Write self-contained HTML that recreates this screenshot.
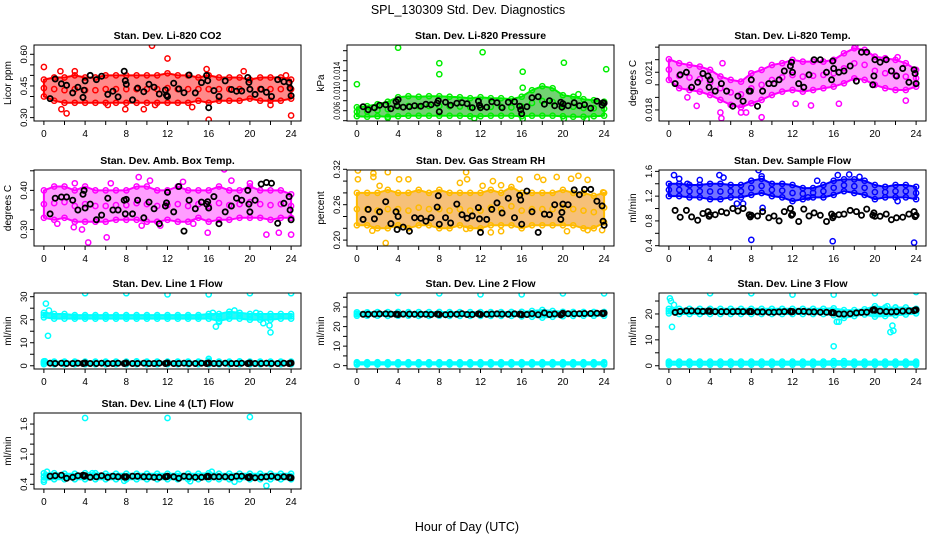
<!DOCTYPE html>
<html><head><meta charset="utf-8">
<style>
html,body{margin:0;padding:0;background:#fff;}
svg{display:block;font-family:"Liberation Sans",Arial,sans-serif;}
</style></head>
<body>
<svg id="chart" width="936" height="540" viewBox="0 0 936 540" xmlns="http://www.w3.org/2000/svg">
<rect width="936" height="540" fill="#fff"/>
<text x="468" y="14" font-size="12.5" text-anchor="middle">SPL_130309  Std. Dev. Diagnostics</text>
<text x="467" y="531" font-size="12.5" text-anchor="middle">Hour of Day (UTC)</text>
</svg>
<script>
// shared time bases
const bandHours = [0,1,2,3,4,5,6,7,8,9,10,11,12,13,14,15,16,17,18,19,20,21,22,23,24];
const blackHours = [0.6,1.1,1.7,2.2,2.8,3.3,3.8,3.9,4.0,4.5,5.1,5.6,6.2,6.7,7.2,7.8,7.9,8.0,8.6,9.1,9.7,10.2,10.7,11.2,11.8,11.9,12.0,12.6,13.1,13.6,14.1,14.7,15.3,15.8,15.9,16.0,16.5,17.0,17.6,18.2,18.7,19.2,19.8,19.9,20.0,20.5,21.1,21.6,22.1,22.7,23.3,23.8,23.9,24.0];
const xTicks = [0,2,4,6,8,10,12,14,16,18,20,22,24];
const xTickLabels = ["0","","4","","8","","12","","16","","20","","24"];

// CO2
const co2Hi = [0.48,0.49,0.49,0.5,0.49,0.49,0.5,0.5,0.5,0.5,0.5,0.5,0.51,0.5,0.5,0.49,0.5,0.49,0.49,0.49,0.48,0.49,0.49,0.49,0.48];
const co2Lo = [0.4,0.38,0.37,0.37,0.37,0.37,0.37,0.37,0.37,0.37,0.37,0.37,0.37,0.37,0.37,0.38,0.37,0.38,0.38,0.38,0.39,0.38,0.38,0.38,0.39];
const co2Out = [[0,0.54],[1.6,0.52],[1.7,0.34],[2.2,0.32],[3.0,0.52],[7.9,0.34],[10.5,0.64],[12.0,0.58],[15.8,0.53],[16.0,0.29],[19.4,0.52],[23.5,0.50],[24.0,0.31],[14.4,0.35],[9.7,0.34],[6.2,0.36],[22.0,0.36],[10.8,0.36]];
const co2Black = [0.39,0.483,0.46,0.453,0.417,0.444,0.396,0.43,0.474,0.50,0.48,0.496,0.41,0.425,0.398,0.52,0.475,0.458,0.384,0.44,0.423,0.458,0.444,0.412,0.431,0.406,0.40,0.463,0.436,0.418,0.502,0.417,0.466,0.50,0.475,0.347,0.428,0.40,0.474,0.433,0.425,0.426,0.49,0.467,0.434,0.41,0.434,0.42,0.40,0.48,0.47,0.466,0.44,0.404];

// Pressure
const presHi = [0.0067,0.0069,0.0073,0.0078,0.0087,0.0089,0.0088,0.0089,0.0089,0.0088,0.0087,0.0085,0.0087,0.0085,0.0085,0.0083,0.0088,0.0101,0.0109,0.0105,0.0091,0.0088,0.0083,0.0081,0.0078];
const presLo = [0.0049,0.0048,0.0049,0.0048,0.0049,0.0050,0.0050,0.0050,0.0050,0.0050,0.0050,0.0049,0.0049,0.0050,0.0050,0.0050,0.0049,0.0050,0.0050,0.0050,0.0049,0.0048,0.0048,0.0049,0.0050];
const presOut = [[0,0.0113],[4.0,0.0186],[8.0,0.0155],[8.0,0.0133],[12.2,0.0177],[16.1,0.0138],[16.1,0.0106],[20.1,0.0156],[24.2,0.0143],[21.5,0.0093],[16.1,0.0044],[20.1,0.0044],[22.3,0.0043],[3.0,0.0046],[11.4,0.0045]];
const presBlack = [0.0068,0.0062,0.0066,0.0071,0.0072,0.0064,0.0078,0.0070,0.0082,0.0067,0.0068,0.0070,0.0069,0.0073,0.0072,0.0075,0.0080,0.0058,0.0077,0.0071,0.0075,0.0076,0.0074,0.0066,0.0079,0.0071,0.0066,0.0067,0.0078,0.0076,0.0066,0.0077,0.0078,0.0069,0.0062,0.0054,0.0068,0.0086,0.0088,0.0073,0.0080,0.0070,0.0077,0.0067,0.0074,0.0070,0.0076,0.0070,0.0072,0.0065,0.0079,0.0071,0.0076,0.0075];

// Li-820 temp
const ltHi = [0.02204,0.02172,0.02158,0.02145,0.02119,0.02066,0.02039,0.02026,0.02092,0.02119,0.02158,0.02172,0.02198,0.02185,0.02185,0.02185,0.02198,0.02251,0.02291,0.02278,0.02225,0.02212,0.02198,0.02172,0.02119];
const ltLo = [0.02039,0.01973,0.01959,0.01946,0.01919,0.0188,0.0184,0.01821,0.01853,0.0188,0.01919,0.01946,0.01959,0.01946,0.01959,0.01973,0.01986,0.02012,0.02052,0.02039,0.01999,0.01973,0.01959,0.01959,0.01986];
const ltOut = [[5.2,0.02172],[5.1,0.01734],[9.0,0.01742],[13.8,0.01835],[23.0,0.01874],[2.7,0.01832],[18.1,0.02304],[5.0,0.0178],[7.0,0.0178],[7.5,0.0178],[12.3,0.0185],[16.5,0.0185],[22.2,0.0222],[1.8,0.0190]];
const ltBlack = [0.0201,0.0208,0.021,0.0198,0.0202,0.0209,0.0207,0.0198,0.0204,0.0195,0.0201,0.0195,0.0183,0.0191,0.0187,0.0195,0.0195,0.0204,0.0183,0.0195,0.0201,0.0201,0.0204,0.0211,0.0215,0.0218,0.0210,0.0201,0.0198,0.0208,0.0220,0.0220,0.0210,0.0204,0.0219,0.0213,0.0210,0.0211,0.0215,0.0203,0.0226,0.0226,0.0200,0.0207,0.0220,0.0218,0.0220,0.0211,0.0207,0.0213,0.0202,0.0212,0.0209,0.0201];

// Amb box temp
const abHi = [0.40,0.41,0.41,0.40,0.41,0.40,0.40,0.40,0.40,0.41,0.41,0.40,0.40,0.41,0.40,0.40,0.40,0.41,0.40,0.40,0.41,0.40,0.40,0.40,0.39];
const abLo = [0.33,0.325,0.33,0.32,0.32,0.32,0.32,0.325,0.325,0.325,0.32,0.32,0.325,0.32,0.32,0.33,0.32,0.325,0.325,0.33,0.33,0.33,0.325,0.33,0.33];
const abOut = [[9.2,0.434],[17.5,0.4535],[4.3,0.267],[6.1,0.28],[21.6,0.287],[24,0.287],[22.8,0.292],[15.9,0.292],[3.7,0.30],[2.9,0.306],[10.3,0.425],[13.5,0.422],[18.2,0.425],[6.5,0.418],[3.0,0.418],[20.0,0.418],[11.3,0.31],[1.3,0.315],[9.5,0.31],[14.5,0.315]];
const abBlack = [0.34,0.38,0.383,0.383,0.375,0.35,0.39,0.40,0.355,0.365,0.325,0.337,0.38,0.35,0.35,0.375,0.34,0.377,0.34,0.375,0.33,0.37,0.353,0.315,0.36,0.368,0.395,0.345,0.41,0.296,0.375,0.353,0.37,0.365,0.371,0.355,0.384,0.315,0.345,0.36,0.38,0.375,0.40,0.365,0.345,0.375,0.416,0.42,0.418,0.316,0.367,0.384,0.35,0.325];

// Gas stream RH
const rhHi = [0.28,0.28,0.28,0.285,0.28,0.28,0.285,0.28,0.285,0.28,0.28,0.28,0.28,0.285,0.28,0.29,0.28,0.28,0.28,0.28,0.285,0.28,0.28,0.275,0.28];
const rhLo = [0.225,0.225,0.22,0.22,0.225,0.22,0.225,0.225,0.22,0.22,0.225,0.22,0.22,0.225,0.225,0.225,0.22,0.225,0.225,0.225,0.225,0.225,0.22,0.22,0.23];
const rhOut = [[0.1,0.318],[0.1,0.303],[1.6,0.313],[1.6,0.307],[2.2,0.292],[3.0,0.315],[4.1,0.303],[5.0,0.303],[10.0,0.297],[10.6,0.315],[10.7,0.303],[12.2,0.292],[13.2,0.30],[14.0,0.293],[15.8,0.303],[17.5,0.307],[18.1,0.302],[19.4,0.307],[20.8,0.304],[21.5,0.309],[22.4,0.302],[2.8,0.195],[1.5,0.216],[10.6,0.219],[13.0,0.213],[14.0,0.215],[20.4,0.215],[22.4,0.217],[23.8,0.217],[23.9,0.281]];
const rhBlack = [0.235,0.252,0.236,0.248,0.265,0.228,0.248,0.218,0.24,0.222,0.215,0.238,0.237,0.232,0.238,0.256,0.275,0.227,0.238,0.229,0.261,0.243,0.237,0.241,0.255,0.236,0.213,0.235,0.252,0.263,0.246,0.271,0.238,0.276,0.268,0.227,0.283,0.248,0.213,0.244,0.243,0.26,0.235,0.247,0.261,0.26,0.285,0.277,0.286,0.286,0.266,0.258,0.232,0.225];

// Sample flow
const sfHi = [1.40,1.40,1.38,1.38,1.40,1.40,1.38,1.38,1.45,1.48,1.40,1.40,1.38,1.33,1.33,1.38,1.45,1.47,1.47,1.45,1.38,1.35,1.38,1.38,1.35];
const sfLo = [1.20,1.20,1.18,1.18,1.15,1.15,1.18,1.18,1.22,1.25,1.20,1.18,1.12,1.15,1.18,1.18,1.22,1.28,1.25,1.22,1.15,1.18,1.18,1.18,1.15];
const sfOut = [[0.5,1.54],[1.0,1.48],[4.9,1.54],[5.3,1.50],[8.7,1.62],[9.0,1.52],[8.0,0.494],[15.9,0.472],[23.8,0.45],[16.4,1.54],[17.5,1.55],[18.5,1.51],[6.6,1.08],[7.2,1.08],[13.5,1.18],[14.4,1.45],[3.0,1.46],[9.1,1.01],[1.8,1.40],[22.2,1.12]];
const sfBlack = [0.97,0.86,0.97,0.865,0.81,0.92,0.95,0.875,0.90,0.90,0.95,0.93,1.00,0.96,1.00,0.90,0.865,0.89,0.88,0.95,0.85,0.88,0.80,0.95,1.00,0.89,0.91,0.79,0.99,0.88,0.93,0.89,0.79,0.91,0.85,0.88,0.90,0.91,0.97,0.95,0.89,0.99,0.89,0.93,0.875,0.875,0.91,0.82,0.85,0.86,0.91,0.95,0.87,0.89];

// Line 1 flow
const l1Hi = [23,22.5,22.5,22,22,22,22,22,22,22,22,22,22,22,22,22,22.5,22.5,23.5,23,22.5,22.5,22.5,22.5,22.5];
const l1Lo = [21,20.5,20.5,20.5,20.5,20.5,20.5,20.5,20.5,20.5,20.5,20.5,20.5,20.5,20.5,20.5,20.5,19.5,20.5,20.5,20,20,20,20.5,20.5];
const l1LowHi = [1.9,1.8,1.8,1.8,1.8,1.8,1.8,1.8,1.8,1.9,1.8,1.8,1.8,1.8,1.8,1.8,2.2,1.8,1.8,1.9,1.8,1.8,1.8,1.8,1.8];
const l1LowLo = [0.7,0.7,0.7,0.7,0.7,0.7,0.7,0.7,0.7,0.7,0.7,0.7,0.7,0.7,0.7,0.7,0.7,0.7,0.7,0.7,0.7,0.7,0.7,0.7,0.7];
const l1Out = [[0.2,27],[0.4,13],[0.5,24],[4,31.5],[8,31.5],[12,31],[16,31],[20,31.5],[24,31.5],[16.7,17],[17,19],[21.3,18.5],[21.9,17.5],[22,14.5],[16,3],[16.4,23],[20.6,23],[18.5,24],[0.1,2]];
const l1Black = [1.1,1.0,1.1,1.0,1.0,1.1,1.0,1.1,1.2,1.0,1.0,1.1,1.0,1.0,1.1,1.0,1.1,1.2,1.0,1.0,1.1,1.0,1.0,1.1,1.0,1.1,1.2,1.0,1.0,1.1,1.0,1.0,1.1,1.0,1.1,1.2,1.0,1.0,1.1,1.0,1.0,1.1,1.0,1.1,1.2,1.0,1.0,1.1,1.0,1.0,1.1,1.0,1.1,1.2];

// Line 2 flow
const l2Hi = [27.3,27.3,27.4,27.4,27.5,27.4,27.4,27.4,27.5,27.4,27.4,27.4,27.4,27.4,27.4,27.5,27.6,28.0,28.5,28.0,27.6,27.5,27.5,27.5,27.5];
const l2Lo = [25.6,25.6,25.6,25.5,25.6,25.6,25.5,25.5,25.6,25.5,25.5,25.5,25.5,25.5,25.5,25.5,25.2,25.0,24.6,25.0,25.3,25.5,25.6,25.6,25.6];
const l2LowHi = [1.8,1.8,1.8,1.8,1.8,1.8,1.8,1.8,1.8,1.8,1.8,1.8,1.8,1.8,1.8,1.8,1.8,1.8,1.8,1.8,1.8,1.8,1.8,1.8,1.8];
const l2LowLo = [0.6,0.6,0.6,0.6,0.6,0.6,0.6,0.6,0.6,0.6,0.6,0.6,0.6,0.6,0.6,0.6,0.6,0.6,0.6,0.6,0.6,0.6,0.6,0.6,0.6];
const l2Out = [[4,37.2],[8,37],[12,36.5],[16,36.5],[20,37],[24,37]];
const l2Black = [26.3,26.3,26.4,26.5,26.5,26.4,26.3,26.4,26.2,26.4,26.4,26.3,26.3,26.3,26.2,26.4,26.3,26.2,26.1,26.3,26.3,26.6,26.2,26.2,26.5,26.4,26.2,26.3,26.4,26.5,26.4,26.3,26.5,26.3,26.4,26.1,26.2,26.6,26.1,27.0,26.2,26.5,26.0,26.4,26.8,26.6,26.6,26.6,26.7,26.7,26.8,26.8,26.6,26.9];

// Line 3 flow
const l3Hi = [22,22,22,22,22,22,22,22,22,22,22,22,22,22,22,22,22.2,21.5,21.5,21.8,23,22.5,22.5,22.5,22];
const l3Lo = [20.2,20,20,20,20,20,20,20,20,20,20,20,20,20,20,20,19.5,18.5,19.2,19.8,19,19.2,19.5,19.8,20.2];
const l3LowHi = [1.6,1.6,1.6,1.6,1.6,1.6,1.6,1.6,1.6,1.6,1.6,1.6,1.6,1.6,1.6,1.6,1.8,1.8,1.6,1.6,1.6,1.6,1.6,1.6,1.6];
const l3LowLo = [0.4,0.4,0.4,0.4,0.4,0.4,0.4,0.4,0.4,0.4,0.4,0.4,0.4,0.4,0.4,0.4,0.4,0.4,0.4,0.4,0.4,0.4,0.4,0.4,0.4];
const l3Out = [[0.1,26],[0.2,25],[0.3,15],[0.5,23.5],[4,28],[8,28],[12,27.5],[16,27.5],[20,28],[24,28.5],[16,7.5],[16.3,17],[16.5,17],[21.5,13],[21.7,15.5],[21.8,13.5],[21.2,23],[22,22.5]];
const l3Black = [20.6,21.0,21.2,21.2,21.1,21.0,21.1,21.2,21.0,20.9,20.9,20.9,20.9,21.0,20.9,20.9,21.0,20.9,20.8,20.8,20.7,20.7,20.8,20.9,21.0,20.8,20.9,21.0,21.0,20.8,20.8,20.7,20.7,20.5,20.6,20.4,20.0,20.0,20.1,20.4,20.6,20.7,21.5,21.7,21.4,21.1,20.9,20.8,20.9,21.1,21.2,21.3,21.5,21.6];

// Line 4 (LT) flow
const l4Hi = [0.62,0.62,0.61,0.61,0.62,0.62,0.61,0.61,0.61,0.61,0.61,0.61,0.61,0.61,0.61,0.61,0.62,0.61,0.61,0.61,0.61,0.61,0.61,0.61,0.61];
const l4Lo = [0.49,0.5,0.5,0.5,0.5,0.5,0.5,0.5,0.5,0.5,0.5,0.5,0.5,0.5,0.5,0.5,0.5,0.5,0.5,0.5,0.5,0.5,0.5,0.5,0.5];
const l4Out = [[4,1.72],[12,1.72],[20,1.74],[0.3,0.65],[0,0.45],[21.6,0.37],[16.3,0.65],[4.7,0.62],[14.2,0.46],[18.5,0.45],[7.8,0.47]];
const l4Black = [0.56,0.57,0.58,0.52,0.54,0.57,0.58,0.56,0.57,0.54,0.55,0.57,0.54,0.56,0.55,0.55,0.54,0.55,0.56,0.56,0.55,0.55,0.54,0.54,0.55,0.55,0.56,0.55,0.52,0.56,0.55,0.54,0.54,0.55,0.56,0.55,0.55,0.55,0.55,0.54,0.56,0.56,0.54,0.53,0.55,0.53,0.54,0.55,0.56,0.54,0.55,0.54,0.53,0.53];

const panels = [
 {name:"co2",title:"Stan. Dev. Li-820 CO2",ylab:"Licor ppm",col:0,row:0,ylim:[0.284,0.644],yt:[0.30,0.35,0.40,0.45,0.50,0.55,0.60],ytl:["0.30","","","0.45","","","0.60"],color:"#ff0000",fill:"rgba(255,40,40,0.55)",bands:[[co2Hi,co2Lo]],out:co2Out,black:co2Black},
 {name:"pressure",title:"Stan. Dev. Li-820 Pressure",ylab:"kPa",col:1,row:0,ylim:[0.00394,0.01914],yt:[0.004,0.006,0.008,0.010,0.012,0.014,0.016,0.018],ytl:["","0.006","","0.010","","0.014","",""],tl:18,color:"#00ee00",fill:"rgba(20,180,20,0.6)",bands:[[presHi,presLo]],out:presOut,black:presBlack},
 {name:"li-temp",title:"Stan. Dev. Li-820 Temp.",ylab:"degrees C",col:2,row:0,ylim:[0.01712,0.02317],yt:[0.018,0.019,0.020,0.021,0.022,0.023],ytl:["0.018","","","0.021","",""],color:"#ff00ff",fill:"rgba(255,60,255,0.5)",bands:[[ltHi,ltLo]],out:ltOut,black:ltBlack},
 {name:"amb-box-temp",title:"Stan. Dev. Amb. Box Temp.",ylab:"degrees C",col:0,row:1,ylim:[0.258,0.452],yt:[0.30,0.35,0.40,0.45],ytl:["0.30","","0.40",""],color:"#ff00ff",fill:"rgba(255,60,255,0.5)",bands:[[abHi,abLo]],out:abOut,black:abBlack},
 {name:"gas-rh",title:"Stan. Dev. Gas Stream RH",ylab:"percent",col:1,row:1,ylim:[0.190,0.3188],yt:[0.20,0.22,0.24,0.26,0.28,0.30,0.32],ytl:["0.20","","","0.26","","","0.32"],color:"#ffbb00",fill:"rgba(240,150,30,0.6)",bands:[[rhHi,rhLo]],out:rhOut,black:rhBlack},
 {name:"sample-flow",title:"Stan. Dev. Sample Flow",ylab:"ml/min",col:2,row:1,ylim:[0.395,1.622],yt:[0.4,0.6,0.8,1.0,1.2,1.4,1.6],ytl:["0.4","","0.8","","1.2","","1.6"],color:"#0000ff",fill:"rgba(20,20,255,0.6)",bands:[[sfHi,sfLo]],out:sfOut,black:sfBlack},
 {name:"line1-flow",title:"Stan. Dev. Line 1 Flow",ylab:"ml/min",col:0,row:2,ylim:[-1.4,31.6],yt:[0,5,10,15,20,25,30],ytl:["0","","10","","20","","30"],color:"#00ffff",fill:"rgba(0,240,240,0.8)",bands:[[l1Hi,l1Lo],[l1LowHi,l1LowLo]],out:l1Out,black:l1Black},
 {name:"line2-flow",title:"Stan. Dev. Line 2 Flow",ylab:"ml/min",col:1,row:2,ylim:[-1.7,37.2],yt:[0,5,10,15,20,25,30,35],ytl:["0","","10","","20","","30",""],color:"#00ffff",fill:"rgba(0,240,240,0.8)",bands:[[l2Hi,l2Lo],[l2LowHi,l2LowLo]],out:l2Out,black:l2Black},
 {name:"line3-flow",title:"Stan. Dev. Line 3 Flow",ylab:"ml/min",col:2,row:2,ylim:[-1.26,28.1],yt:[0,5,10,15,20,25],ytl:["0","","10","","20",""],color:"#00ffff",fill:"rgba(0,240,240,0.8)",bands:[[l3Hi,l3Lo],[l3LowHi,l3LowLo]],out:l3Out,black:l3Black},
 {name:"line4-flow",title:"Stan. Dev. Line 4 (LT) Flow",ylab:"ml/min",col:0,row:3,ylim:[0.306,1.82],yt:[0.4,0.6,0.8,1.0,1.2,1.4,1.6],ytl:["0.4","","","1.0","","","1.6"],color:"#00ffff",fill:"rgba(0,240,240,0.8)",bands:[[l4Hi,l4Lo]],out:l4Out,black:l4Black}
];

const colLeft = [34,347,659], rowTop = [45,170,293,413], W = 267, H = 76;
const svg = document.getElementById('chart');
const NS = 'http://www.w3.org/2000/svg';
function mk(tag, attrs, parent){
  const e = document.createElementNS(NS, tag);
  for (const k in attrs) e.setAttribute(k, attrs[k]);
  (parent||svg).appendChild(e);
  return e;
}
function circ(g, x, y, color){
  const c = mk('circle',{cx:x.toFixed(1),cy:y.toFixed(1),r:2.6,fill:'none',stroke:color,'stroke-width':1.5},g);
  
  
}

panels.forEach(p => {
  const L = colLeft[p.col], T = rowTop[p.row];
  const xs = h => L + (h + 0.96) / 25.92 * W;
  const ys = v => T + H - (v - p.ylim[0]) / (p.ylim[1] - p.ylim[0]) * H;
  const g = mk('g',{});
  
  
  const clipId = 'clip-' + p.name;
  const cp = mk('clipPath',{id:clipId},g);
  mk('rect',{x:L,y:T,width:W,height:H},cp);
  const plot = mk('g',{'clip-path':'url(#'+clipId+')'},g);
  
  
  p.bands.forEach(([hi, lo]) => {
    let pts = [];
    bandHours.forEach((h,i) => pts.push(xs(h).toFixed(1)+','+ys(hi[i]).toFixed(1)));
    for (let i = bandHours.length-1; i >= 0; i--) pts.push(xs(bandHours[i]).toFixed(1)+','+ys(lo[i]).toFixed(1));
    const poly = mk('polygon',{points:pts.join(' '),fill:p.fill,stroke:p.color,'stroke-width':2,'stroke-linejoin':'round'},plot);
    
    
    bandHours.forEach((h,i) => {
      circ(plot, xs(h), ys(hi[i]), p.color);
      circ(plot, xs(h), ys(lo[i]), p.color);
      circ(plot, xs(h), ys((hi[i]+lo[i])/2), p.color);
    });
  });
  p.out.forEach(([h,v]) => circ(plot, xs(h), ys(v), p.color));
  const n = Math.min(blackHours.length, p.black.length);
  for (let i = 0; i < n; i++) {
    const c = mk('circle',{cx:xs(blackHours[i]).toFixed(1),cy:ys(p.black[i]).toFixed(1),r:2.6,fill:'none',stroke:'#000','stroke-width':1.8},plot);
    
    
  }
  const box = mk('rect',{x:L,y:T,width:W,height:H,fill:'none',stroke:'#000','stroke-width':1},g);
  
  
  const t = mk('text',{x:L+W/2,y:T-6,'font-size':10.5,'font-weight':'bold','text-anchor':'middle'},g);
  t.textContent = p.title;
  
  
  const yl = mk('text',{x:0,y:0,'font-size':10,'text-anchor':'middle',transform:'translate('+(L-23)+','+(T+H/2)+') rotate(-90)'},g);
  yl.textContent = p.ylab;
  
  
  p.yt.forEach((v,i) => {
    const y = ys(v);
    mk('line',{x1:L-4,x2:L,y1:y,y2:y,stroke:'#000','stroke-width':1},g);
    if (p.ytl[i]) {
      const attrs = {x:0,y:0,'font-size':9.5,'text-anchor':'middle',transform:'translate('+(L-7)+','+y.toFixed(1)+') rotate(-90)'};
      if (p.tl) { attrs.textLength = p.tl; attrs.lengthAdjust = 'spacingAndGlyphs'; }
      const tl = mk('text',attrs,g);
      tl.textContent = p.ytl[i];
      
      
    }
  });
  xTicks.forEach((h,i) => {
    const x = xs(h);
    mk('line',{x1:x,x2:x,y1:T+H,y2:T+H+4,stroke:'#000','stroke-width':1},g);
    if (xTickLabels[i]) {
      const tl = mk('text',{x:x.toFixed(1),y:T+H+16,'font-size':10,'text-anchor':'middle'},g);
      tl.textContent = xTickLabels[i];
      
      
    }
  });
});
</script>
</body></html>
